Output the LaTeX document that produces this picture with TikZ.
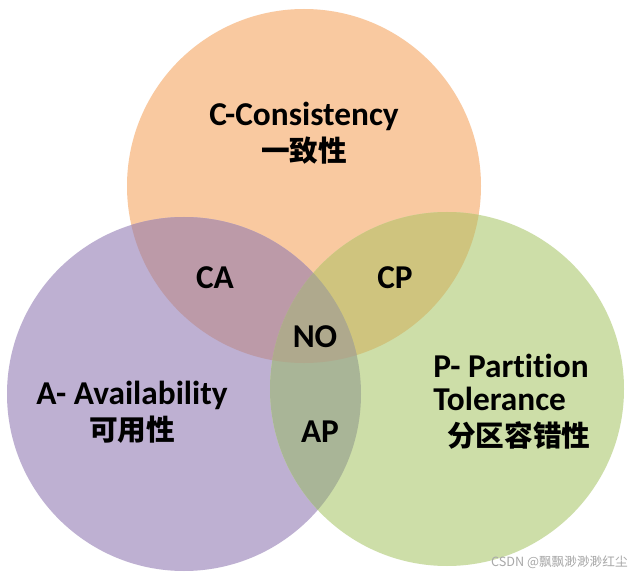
\documentclass[tikz,border=0pt]{standalone}
\usepackage{fontspec}
\setmainfont{Carlito}[Ligatures=NoCommon]
\newfontfamily\cjk{Noto Sans CJK SC}
\usetikzlibrary{positioning}
\definecolor{consist}{HTML}{F9C9A0}
\definecolor{avail}{HTML}{BEB0D2}
\definecolor{parti}{HTML}{CDDEA8}
\definecolor{ca}{HTML}{BC9AA8}
\definecolor{cp}{HTML}{CFC47E}
\definecolor{ap}{HTML}{A9B597}
\definecolor{none}{HTML}{AFA98D}
\definecolor{mark}{HTML}{A8A8A8}
\begin{document}
\begin{tikzpicture}[x=0.75pt,y=-0.75pt,
  lbl/.style={font=\bfseries\fontsize{25}{25}\selectfont,inner sep=0pt},
  title/.style={lbl,align=center}]
\useasboundingbox[fill=white] (0,0) rectangle (636,574);
\def\rad{132.75pt}
\coordinate (C) at (304,186);
\coordinate (A) at (184,394);
\coordinate (P) at (447,389);
% the three sets
\fill[consist] (C) circle[radius=\rad];
\fill[avail] (A) circle[radius=\rad];
\fill[parti] (P) circle[radius=\rad];
% overlaps
\begin{scope}
  \clip (C) circle[radius=\rad];
  \fill[ca] (A) circle[radius=\rad];
  \fill[cp] (P) circle[radius=\rad];
\end{scope}
\begin{scope}
  \clip (A) circle[radius=\rad];
  \fill[ap] (P) circle[radius=\rad];
  \clip (P) circle[radius=\rad];
  \fill[none] (C) circle[radius=\rad];
\end{scope}
% texts
\node[title] (tc) at (304,133) {C-Consistency\\[2pt]{\cjk\fontsize{21.5}{25}\selectfont 一致性}};
\node[title] (ta) at (132,412) {A- Availability\\[2pt]{\cjk\fontsize{21.5}{25}\selectfont 可用性}};
\node[lbl,align=left,anchor=west] (tp) at (433,402) {P- Part\kern0pt it\kern0pt ion\\Tolerance\\[2pt]\hspace*{10.5pt}{\cjk\fontsize{21.5}{25}\selectfont 分区容错性}};
\node[lbl] (ca) at (215,278) {CA};
\node[lbl] (cp) at (395,278) {CP};
\node[lbl] (no) at (315,337) {NO};
\node[lbl] (ap) at (320,432) {AP};
\node[font=\cjk\fontsize{9.5}{10}\selectfont,text=mark,anchor=east,inner sep=0pt] (wm) at (628,562) {CSDN @飘飘渺渺渺红尘};
\end{tikzpicture}
\end{document}
